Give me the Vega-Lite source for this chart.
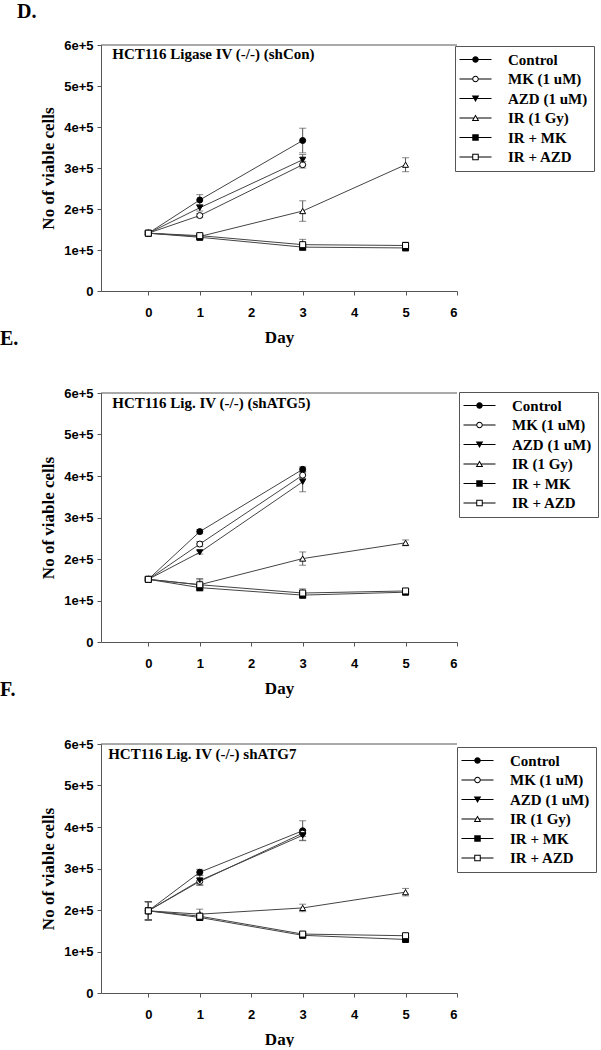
{
  "$schema": "https://vega.github.io/schema/vega-lite/v6.json",
  "background": "white",
  "padding": {"left": 0, "top": 2, "right": 0, "bottom": 0},
  "config": {
    "view": {"stroke": null},
    "axis": {"domainColor": "#555", "tickColor": "#555", "grid": false, "labelFont": "Liberation Sans", "labelFontWeight": "bold", "labelFontSize": 13, "labelColor": "black", "titleFont": "Liberation Serif", "titleFontWeight": "bold", "titleFontSize": 17, "titleColor": "black", "tickSize": 4},
    "axisX": {"labelPadding": 11, "titlePadding": 10, "labelAngle": 0},
    "axisY": {"labelPadding": 4, "titlePadding": 6},
    "legend": {"labelFont": "Liberation Serif", "labelFontWeight": "bold", "labelFontSize": 15, "labelColor": "black", "strokeColor": "#555", "fillColor": "white", "padding": 6, "symbolSize": 100, "symbolOffset": 7, "labelOffset": 25, "rowPadding": 3.5, "symbolOpacity": 1, "symbolStrokeWidth": 0},
    "title": {"font": "Liberation Serif", "fontWeight": "bold", "fontSize": 20, "color": "black", "anchor": "start", "frame": "group"}
  },
  "datasets": {
    "D": [
      {"series": "Control", "day": 0, "mean": 141000, "err": 3000},
      {"series": "Control", "day": 1, "mean": 222000, "err": 13000},
      {"series": "Control", "day": 3, "mean": 367000, "err": 30000},
      {"series": "MK (1 uM)", "day": 0, "mean": 141000, "err": 3000},
      {"series": "MK (1 uM)", "day": 1, "mean": 184000, "err": 5000},
      {"series": "MK (1 uM)", "day": 3, "mean": 308000, "err": 8000},
      {"series": "AZD (1 uM)", "day": 0, "mean": 141000, "err": 3000},
      {"series": "AZD (1 uM)", "day": 1, "mean": 203000, "err": 8000},
      {"series": "AZD (1 uM)", "day": 3, "mean": 320000, "err": 13000},
      {"series": "IR (1 Gy)", "day": 0, "mean": 141000, "err": 3000},
      {"series": "IR (1 Gy)", "day": 1, "mean": 133000, "err": 4000},
      {"series": "IR (1 Gy)", "day": 3, "mean": 195000, "err": 25000},
      {"series": "IR (1 Gy)", "day": 5, "mean": 308000, "err": 17000},
      {"series": "IR + MK", "day": 0, "mean": 141000, "err": 3000},
      {"series": "IR + MK", "day": 1, "mean": 131000, "err": 4000},
      {"series": "IR + MK", "day": 3, "mean": 107000, "err": 8000},
      {"series": "IR + MK", "day": 5, "mean": 105000, "err": 3000},
      {"series": "IR + AZD", "day": 0, "mean": 141000, "err": 3000},
      {"series": "IR + AZD", "day": 1, "mean": 135000, "err": 4000},
      {"series": "IR + AZD", "day": 3, "mean": 113000, "err": 13000},
      {"series": "IR + AZD", "day": 5, "mean": 111000, "err": 8000}
    ],
    "E": [
      {"series": "Control", "day": 0, "mean": 151000, "err": 3000},
      {"series": "Control", "day": 1, "mean": 266000, "err": 5000},
      {"series": "Control", "day": 3, "mean": 416000, "err": 6000},
      {"series": "MK (1 uM)", "day": 0, "mean": 151000, "err": 3000},
      {"series": "MK (1 uM)", "day": 1, "mean": 236000, "err": 6000},
      {"series": "MK (1 uM)", "day": 3, "mean": 402000, "err": 8000},
      {"series": "AZD (1 uM)", "day": 0, "mean": 151000, "err": 3000},
      {"series": "AZD (1 uM)", "day": 1, "mean": 216000, "err": 4000},
      {"series": "AZD (1 uM)", "day": 3, "mean": 386000, "err": 24000},
      {"series": "IR (1 Gy)", "day": 0, "mean": 151000, "err": 3000},
      {"series": "IR (1 Gy)", "day": 1, "mean": 138000, "err": 12000},
      {"series": "IR (1 Gy)", "day": 3, "mean": 201000, "err": 16000},
      {"series": "IR (1 Gy)", "day": 5, "mean": 239000, "err": 7000},
      {"series": "IR + MK", "day": 0, "mean": 151000, "err": 3000},
      {"series": "IR + MK", "day": 1, "mean": 131000, "err": 4000},
      {"series": "IR + MK", "day": 3, "mean": 113000, "err": 8000},
      {"series": "IR + MK", "day": 5, "mean": 120000, "err": 6000},
      {"series": "IR + AZD", "day": 0, "mean": 151000, "err": 3000},
      {"series": "IR + AZD", "day": 1, "mean": 138000, "err": 15000},
      {"series": "IR + AZD", "day": 3, "mean": 118000, "err": 10000},
      {"series": "IR + AZD", "day": 5, "mean": 123000, "err": 6000}
    ],
    "F": [
      {"series": "Control", "day": 0, "mean": 198000, "err": 22000},
      {"series": "Control", "day": 1, "mean": 291000, "err": 7000},
      {"series": "Control", "day": 3, "mean": 391000, "err": 24000},
      {"series": "MK (1 uM)", "day": 0, "mean": 198000, "err": 22000},
      {"series": "MK (1 uM)", "day": 1, "mean": 269000, "err": 8000},
      {"series": "MK (1 uM)", "day": 3, "mean": 385000, "err": 8000},
      {"series": "AZD (1 uM)", "day": 0, "mean": 198000, "err": 22000},
      {"series": "AZD (1 uM)", "day": 1, "mean": 271000, "err": 12000},
      {"series": "AZD (1 uM)", "day": 3, "mean": 380000, "err": 12000},
      {"series": "IR (1 Gy)", "day": 0, "mean": 198000, "err": 22000},
      {"series": "IR (1 Gy)", "day": 1, "mean": 190000, "err": 12000},
      {"series": "IR (1 Gy)", "day": 3, "mean": 205000, "err": 9000},
      {"series": "IR (1 Gy)", "day": 5, "mean": 243000, "err": 9000},
      {"series": "IR + MK", "day": 0, "mean": 198000, "err": 22000},
      {"series": "IR + MK", "day": 1, "mean": 182000, "err": 6000},
      {"series": "IR + MK", "day": 3, "mean": 139000, "err": 5000},
      {"series": "IR + MK", "day": 5, "mean": 129000, "err": 4000},
      {"series": "IR + AZD", "day": 0, "mean": 198000, "err": 22000},
      {"series": "IR + AZD", "day": 1, "mean": 185000, "err": 7000},
      {"series": "IR + AZD", "day": 3, "mean": 142000, "err": 5000},
      {"series": "IR + AZD", "day": 5, "mean": 138000, "err": 5000}
    ]
  },
  "bounds": "flush",
  "spacing": 102,
  "resolve": {
    "scale": {"x": "independent", "y": "independent", "shape": "independent", "fill": "independent"},
    "legend": {"shape": "independent", "fill": "independent"}
  },
  "vconcat": [
    {
      "width": 356, "height": 246,
      "title": {"text": "D.", "dx": -84, "offset": 17},
      "resolve": {"scale": {"shape": "independent"}},
      "layer": [
        {"data": {"values": [{"top": 600000}]}, "mark": {"type": "rule", "color": "#555", "strokeWidth": 1}, "encoding": {"y": {"field": "top", "type": "quantitative", "title": "No of viable cells", "scale": {"domain": [0, 600000], "nice": false}}}},
        {"data": {"name": "D"}, "mark": {"type": "errorbar", "color": "#555", "ticks": {"size": 7, "color": "#555"}},
          "encoding": {
            "x": {"field": "day", "type": "quantitative", "title": "Day", "scale": {"domain": [-0.92, 6], "nice": false}, "axis": {"values": [0, 1, 2, 3, 4, 5, 6]}},
            "y": {"field": "mean", "type": "quantitative", "title": "No of viable cells", "scale": {"domain": [0, 600000], "nice": false}, "axis": {"values": [0, 100000, 200000, 300000, 400000, 500000, 600000], "labelExpr": "datum.value == 0 ? '0' : (datum.value / 100000) + 'e+5'"}},
            "yError": {"field": "err"},
            "detail": {"field": "series"}
          }},
        {"data": {"name": "D"}, "mark": {"type": "line", "color": "#444", "strokeWidth": 1},
          "encoding": {
            "x": {"field": "day", "type": "quantitative", "title": "Day", "scale": {"domain": [-0.92, 6], "nice": false}},
            "y": {"field": "mean", "type": "quantitative", "title": "No of viable cells", "scale": {"domain": [0, 600000], "nice": false}},
            "detail": {"field": "series"}
          }},
        {"data": {"name": "D"}, "mark": {"type": "point", "filled": true, "stroke": "black", "strokeWidth": 1, "size": 36, "opacity": 1},
          "encoding": {
            "x": {"field": "day", "type": "quantitative", "title": "Day", "scale": {"domain": [-0.92, 6], "nice": false}},
            "y": {"field": "mean", "type": "quantitative", "title": "No of viable cells", "scale": {"domain": [0, 600000], "nice": false}},
            "shape": {"field": "series", "type": "nominal", "legend": null,
              "scale": {"domain": ["Control", "MK (1 uM)", "AZD (1 uM)", "IR (1 Gy)", "IR + MK", "IR + AZD"], "range": ["circle", "circle", "triangle-down", "triangle-up", "square", "square"]}},
            "fill": {"field": "series", "type": "nominal", "legend": null,
              "scale": {"domain": ["Control", "MK (1 uM)", "AZD (1 uM)", "IR (1 Gy)", "IR + MK", "IR + AZD"], "range": ["black", "white", "black", "white", "black", "white"]}}
          }},
        {"data": {"name": "D"}, "mark": {"type": "point", "filled": true, "color": "black", "stroke": "transparent", "opacity": 0},
          "encoding": {
            "x": {"field": "day", "type": "quantitative", "title": "Day", "scale": {"domain": [-0.92, 6], "nice": false}},
            "y": {"field": "mean", "type": "quantitative", "title": "No of viable cells", "scale": {"domain": [0, 600000], "nice": false}},
            "shape": {"field": "series", "type": "nominal",
              "scale": {"domain": ["Control", "MK (1 uM)", "AZD (1 uM)", "IR (1 Gy)", "IR + MK", "IR + AZD"], "range": [
                "M-3.2,-0.1H-0.64V0.1H-3.2Z M0.64,-0.1H3.2V0.1H0.64Z M0.65,0A0.65,0.65,0,1,1,-0.65,0A0.65,0.65,0,1,1,0.65,0Z",
                "M-3.2,-0.1H-0.64V0.1H-3.2Z M0.64,-0.1H3.2V0.1H0.64Z M0.65,0A0.65,0.65,0,1,1,-0.65,0A0.65,0.65,0,1,1,0.65,0Z M0.45,0A0.45,0.45,0,1,0,-0.45,0A0.45,0.45,0,1,0,0.45,0Z",
                "M-3.2,-0.1H-0.4V0.1H-3.2Z M0.4,-0.1H3.2V0.1H0.4Z M-0.75,-0.6H0.75L0,0.7Z",
                "M-3.2,-0.1H-0.4V0.1H-3.2Z M0.4,-0.1H3.2V0.1H0.4Z M0,-0.7L0.75,0.6H-0.75Z M0,-0.3L-0.404,0.4H0.404Z",
                "M-3.2,-0.1H-0.64V0.1H-3.2Z M0.64,-0.1H3.2V0.1H0.64Z M-0.65,-0.65H0.65V0.65H-0.65Z",
                "M-3.2,-0.1H-0.64V0.1H-3.2Z M0.64,-0.1H3.2V0.1H0.64Z M-0.65,-0.65H0.65V0.65H-0.65Z M-0.45,-0.45V0.45H0.45V-0.45Z"
              ]},
              "legend": {"title": null, "orient": "none", "legendX": 354, "legendY": 1}}
          }},
        {"data": {"values": [{"label": "HCT116 Ligase IV (-/-) (shCon)", "day": -0.7, "level": 577000}]},
          "mark": {"type": "text", "align": "left", "baseline": "middle", "font": "Liberation Serif", "fontWeight": "bold", "fontSize": 15, "color": "black"},
          "encoding": {
            "x": {"field": "day", "type": "quantitative", "title": "Day", "scale": {"domain": [-0.92, 6], "nice": false}},
            "y": {"field": "level", "type": "quantitative", "title": "No of viable cells", "scale": {"domain": [0, 600000], "nice": false}},
            "text": {"field": "label"}
          }}
      ]
    },
    {
      "width": 356, "height": 249,
      "title": {"text": "E.", "dx": -101, "offset": 38},
      "resolve": {"scale": {"shape": "independent"}},
      "layer": [
        {"data": {"values": [{"top": 600000}]}, "mark": {"type": "rule", "color": "#555", "strokeWidth": 1}, "encoding": {"y": {"field": "top", "type": "quantitative", "title": "No of viable cells", "scale": {"domain": [0, 600000], "nice": false}}}},
        {"data": {"name": "E"}, "mark": {"type": "errorbar", "color": "#555", "ticks": {"size": 7, "color": "#555"}},
          "encoding": {
            "x": {"field": "day", "type": "quantitative", "title": "Day", "scale": {"domain": [-0.92, 6], "nice": false}, "axis": {"values": [0, 1, 2, 3, 4, 5, 6]}},
            "y": {"field": "mean", "type": "quantitative", "title": "No of viable cells", "scale": {"domain": [0, 600000], "nice": false}, "axis": {"values": [0, 100000, 200000, 300000, 400000, 500000, 600000], "labelExpr": "datum.value == 0 ? '0' : (datum.value / 100000) + 'e+5'"}},
            "yError": {"field": "err"},
            "detail": {"field": "series"}
          }},
        {"data": {"name": "E"}, "mark": {"type": "line", "color": "#444", "strokeWidth": 1},
          "encoding": {
            "x": {"field": "day", "type": "quantitative", "title": "Day", "scale": {"domain": [-0.92, 6], "nice": false}},
            "y": {"field": "mean", "type": "quantitative", "title": "No of viable cells", "scale": {"domain": [0, 600000], "nice": false}},
            "detail": {"field": "series"}
          }},
        {"data": {"name": "E"}, "mark": {"type": "point", "filled": true, "stroke": "black", "strokeWidth": 1, "size": 36, "opacity": 1},
          "encoding": {
            "x": {"field": "day", "type": "quantitative", "title": "Day", "scale": {"domain": [-0.92, 6], "nice": false}},
            "y": {"field": "mean", "type": "quantitative", "title": "No of viable cells", "scale": {"domain": [0, 600000], "nice": false}},
            "shape": {"field": "series", "type": "nominal", "legend": null,
              "scale": {"domain": ["Control", "MK (1 uM)", "AZD (1 uM)", "IR (1 Gy)", "IR + MK", "IR + AZD"], "range": ["circle", "circle", "triangle-down", "triangle-up", "square", "square"]}},
            "fill": {"field": "series", "type": "nominal", "legend": null,
              "scale": {"domain": ["Control", "MK (1 uM)", "AZD (1 uM)", "IR (1 Gy)", "IR + MK", "IR + AZD"], "range": ["black", "white", "black", "white", "black", "white"]}}
          }},
        {"data": {"name": "E"}, "mark": {"type": "point", "filled": true, "color": "black", "stroke": "transparent", "opacity": 0},
          "encoding": {
            "x": {"field": "day", "type": "quantitative", "title": "Day", "scale": {"domain": [-0.92, 6], "nice": false}},
            "y": {"field": "mean", "type": "quantitative", "title": "No of viable cells", "scale": {"domain": [0, 600000], "nice": false}},
            "shape": {"field": "series", "type": "nominal",
              "scale": {"domain": ["Control", "MK (1 uM)", "AZD (1 uM)", "IR (1 Gy)", "IR + MK", "IR + AZD"], "range": [
                "M-3.2,-0.1H-0.64V0.1H-3.2Z M0.64,-0.1H3.2V0.1H0.64Z M0.65,0A0.65,0.65,0,1,1,-0.65,0A0.65,0.65,0,1,1,0.65,0Z",
                "M-3.2,-0.1H-0.64V0.1H-3.2Z M0.64,-0.1H3.2V0.1H0.64Z M0.65,0A0.65,0.65,0,1,1,-0.65,0A0.65,0.65,0,1,1,0.65,0Z M0.45,0A0.45,0.45,0,1,0,-0.45,0A0.45,0.45,0,1,0,0.45,0Z",
                "M-3.2,-0.1H-0.4V0.1H-3.2Z M0.4,-0.1H3.2V0.1H0.4Z M-0.75,-0.6H0.75L0,0.7Z",
                "M-3.2,-0.1H-0.4V0.1H-3.2Z M0.4,-0.1H3.2V0.1H0.4Z M0,-0.7L0.75,0.6H-0.75Z M0,-0.3L-0.404,0.4H0.404Z",
                "M-3.2,-0.1H-0.64V0.1H-3.2Z M0.64,-0.1H3.2V0.1H0.64Z M-0.65,-0.65H0.65V0.65H-0.65Z",
                "M-3.2,-0.1H-0.64V0.1H-3.2Z M0.64,-0.1H3.2V0.1H0.64Z M-0.65,-0.65H0.65V0.65H-0.65Z M-0.45,-0.45V0.45H0.45V-0.45Z"
              ]},
              "legend": {"title": null, "orient": "none", "legendX": 358, "legendY": -1}}
          }},
        {"data": {"values": [{"label": "HCT116 Lig. IV (-/-) (shATG5)", "day": -0.7, "level": 577000}]},
          "mark": {"type": "text", "align": "left", "baseline": "middle", "font": "Liberation Serif", "fontWeight": "bold", "fontSize": 15, "color": "black"},
          "encoding": {
            "x": {"field": "day", "type": "quantitative", "title": "Day", "scale": {"domain": [-0.92, 6], "nice": false}},
            "y": {"field": "level", "type": "quantitative", "title": "No of viable cells", "scale": {"domain": [0, 600000], "nice": false}},
            "text": {"field": "label"}
          }}
      ]
    },
    {
      "width": 356, "height": 249,
      "title": {"text": "F.", "dx": -101, "offset": 38},
      "resolve": {"scale": {"shape": "independent"}},
      "layer": [
        {"data": {"values": [{"top": 600000}]}, "mark": {"type": "rule", "color": "#555", "strokeWidth": 1}, "encoding": {"y": {"field": "top", "type": "quantitative", "title": "No of viable cells", "scale": {"domain": [0, 600000], "nice": false}}}},
        {"data": {"name": "F"}, "mark": {"type": "errorbar", "color": "#555", "ticks": {"size": 7, "color": "#555"}},
          "encoding": {
            "x": {"field": "day", "type": "quantitative", "title": "Day", "scale": {"domain": [-0.92, 6], "nice": false}, "axis": {"values": [0, 1, 2, 3, 4, 5, 6]}},
            "y": {"field": "mean", "type": "quantitative", "title": "No of viable cells", "scale": {"domain": [0, 600000], "nice": false}, "axis": {"values": [0, 100000, 200000, 300000, 400000, 500000, 600000], "labelExpr": "datum.value == 0 ? '0' : (datum.value / 100000) + 'e+5'"}},
            "yError": {"field": "err"},
            "detail": {"field": "series"}
          }},
        {"data": {"name": "F"}, "mark": {"type": "line", "color": "#444", "strokeWidth": 1},
          "encoding": {
            "x": {"field": "day", "type": "quantitative", "title": "Day", "scale": {"domain": [-0.92, 6], "nice": false}},
            "y": {"field": "mean", "type": "quantitative", "title": "No of viable cells", "scale": {"domain": [0, 600000], "nice": false}},
            "detail": {"field": "series"}
          }},
        {"data": {"name": "F"}, "mark": {"type": "point", "filled": true, "stroke": "black", "strokeWidth": 1, "size": 36, "opacity": 1},
          "encoding": {
            "x": {"field": "day", "type": "quantitative", "title": "Day", "scale": {"domain": [-0.92, 6], "nice": false}},
            "y": {"field": "mean", "type": "quantitative", "title": "No of viable cells", "scale": {"domain": [0, 600000], "nice": false}},
            "shape": {"field": "series", "type": "nominal", "legend": null,
              "scale": {"domain": ["Control", "MK (1 uM)", "AZD (1 uM)", "IR (1 Gy)", "IR + MK", "IR + AZD"], "range": ["circle", "circle", "triangle-down", "triangle-up", "square", "square"]}},
            "fill": {"field": "series", "type": "nominal", "legend": null,
              "scale": {"domain": ["Control", "MK (1 uM)", "AZD (1 uM)", "IR (1 Gy)", "IR + MK", "IR + AZD"], "range": ["black", "white", "black", "white", "black", "white"]}}
          }},
        {"data": {"name": "F"}, "mark": {"type": "point", "filled": true, "color": "black", "stroke": "transparent", "opacity": 0},
          "encoding": {
            "x": {"field": "day", "type": "quantitative", "title": "Day", "scale": {"domain": [-0.92, 6], "nice": false}},
            "y": {"field": "mean", "type": "quantitative", "title": "No of viable cells", "scale": {"domain": [0, 600000], "nice": false}},
            "shape": {"field": "series", "type": "nominal",
              "scale": {"domain": ["Control", "MK (1 uM)", "AZD (1 uM)", "IR (1 Gy)", "IR + MK", "IR + AZD"], "range": [
                "M-3.2,-0.1H-0.64V0.1H-3.2Z M0.64,-0.1H3.2V0.1H0.64Z M0.65,0A0.65,0.65,0,1,1,-0.65,0A0.65,0.65,0,1,1,0.65,0Z",
                "M-3.2,-0.1H-0.64V0.1H-3.2Z M0.64,-0.1H3.2V0.1H0.64Z M0.65,0A0.65,0.65,0,1,1,-0.65,0A0.65,0.65,0,1,1,0.65,0Z M0.45,0A0.45,0.45,0,1,0,-0.45,0A0.45,0.45,0,1,0,0.45,0Z",
                "M-3.2,-0.1H-0.4V0.1H-3.2Z M0.4,-0.1H3.2V0.1H0.4Z M-0.75,-0.6H0.75L0,0.7Z",
                "M-3.2,-0.1H-0.4V0.1H-3.2Z M0.4,-0.1H3.2V0.1H0.4Z M0,-0.7L0.75,0.6H-0.75Z M0,-0.3L-0.404,0.4H0.404Z",
                "M-3.2,-0.1H-0.64V0.1H-3.2Z M0.64,-0.1H3.2V0.1H0.64Z M-0.65,-0.65H0.65V0.65H-0.65Z",
                "M-3.2,-0.1H-0.64V0.1H-3.2Z M0.64,-0.1H3.2V0.1H0.64Z M-0.65,-0.65H0.65V0.65H-0.65Z M-0.45,-0.45V0.45H0.45V-0.45Z"
              ]},
              "legend": {"title": null, "orient": "none", "legendX": 356, "legendY": 3}}
          }},
        {"data": {"values": [{"label": "HCT116 Lig. IV (-/-) shATG7", "day": -0.78, "level": 577000}]},
          "mark": {"type": "text", "align": "left", "baseline": "middle", "font": "Liberation Serif", "fontWeight": "bold", "fontSize": 15, "color": "black"},
          "encoding": {
            "x": {"field": "day", "type": "quantitative", "title": "Day", "scale": {"domain": [-0.92, 6], "nice": false}},
            "y": {"field": "level", "type": "quantitative", "title": "No of viable cells", "scale": {"domain": [0, 600000], "nice": false}},
            "text": {"field": "label"}
          }}
      ]
    }
  ]
}
